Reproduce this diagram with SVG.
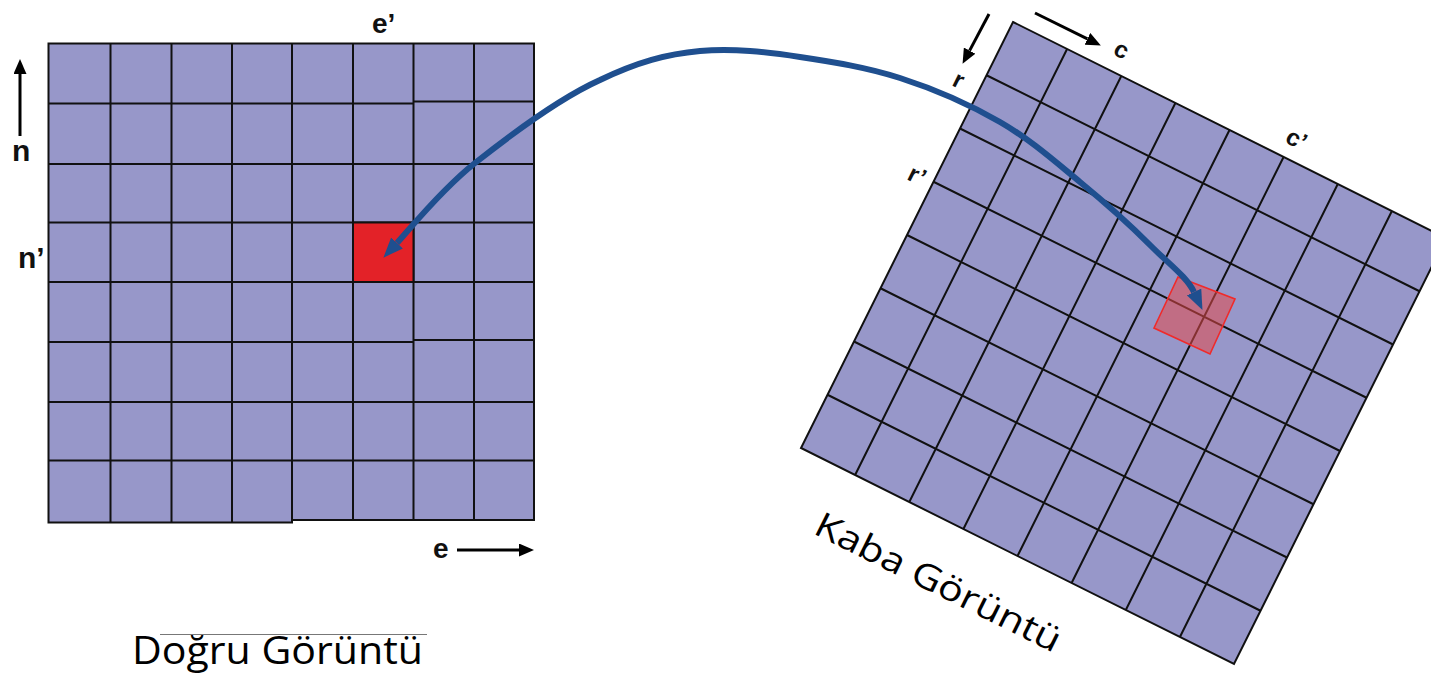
<svg xmlns="http://www.w3.org/2000/svg" width="1431" height="677" viewBox="0 0 1431 677">
<style>
.cell{fill:#9797c9;stroke:#111;stroke-width:2}
.ln{stroke:#111;stroke-width:2;fill:none}
.lbl{font-family:"Liberation Sans",Arial,sans-serif;font-weight:bold;fill:#111}
.cap{font-family:"Open Sans","Noto Sans",sans-serif;fill:#000}
.blk{stroke:#000;stroke-width:3;fill:none}
</style>
<defs>
<marker id="ah" markerUnits="userSpaceOnUse" markerWidth="15" markerHeight="13" viewBox="0 0 15 13" refX="0" refY="6.5" orient="auto">
<path d="M0,0 L15,6.5 L0,13 z" fill="#000"/>
</marker>
<marker id="bh" markerUnits="userSpaceOnUse" markerWidth="20" markerHeight="16" viewBox="0 0 20 16" refX="0" refY="8" orient="auto-start-reverse">
<path d="M0,0 L20,8 L0,16 z" fill="#1f4f8f"/>
</marker>
</defs>

<g id="grid-dogru">
<path class="cell" d="M48.5,43.5 H534 V520 H292 V522.5 H48.5 Z"/>
<path class="ln" d="M110.5,43.5V522.5 M171.5,43.5V522.5 M232,43.5V522.5 M292,43.5V522.5 M353,43.5V520 M413.5,43.5V520 M474,43.5V520
M48.5,103.5H413.5 M413.5,101.5H534 M48.5,164H534 M48.5,222.5H534 M48.5,282H534 M48.5,342H413.5 M413.5,340H534 M48.5,402H534 M48.5,460.5H534"/>
<rect id="hedef-hucre" x="353" y="222.5" width="60.5" height="59.5" fill="#e32228" stroke="#111" stroke-width="2"/>
</g>

<g id="grid-kaba">
<polygon class="cell" points="1013,22 1446,238 1234,664 801,448"/>
<path class="ln" d="M1067.1,49L855.1,475 M1121.3,76L909.3,502 M1175.4,103L963.4,529 M1229.5,130L1017.5,556 M1283.6,157L1071.6,583 M1337.8,184L1125.8,610 M1391.9,211L1179.9,637
M986.5,75.25L1419.5,291.25 M960,128.5L1393,344.5 M933.5,181.75L1366.5,397.75 M907,235L1340,451 M880.5,288.25L1313.5,504.25 M854,341.5L1287,557.5 M827.5,394.75L1260.5,610.75"/>
<polygon id="kaynak-hucre" points="1178,277 1235,299 1210,354 1154,328" fill="#e34a4a" fill-opacity="0.55" stroke="#f02a2a" stroke-width="1.6"/>
</g>

<g id="labels">
<text class="lbl" x="372" y="33" font-size="28">e’</text>
<text class="lbl" x="12" y="161" font-size="30">n</text>
<text class="lbl" x="18" y="268" font-size="30">n’</text>
<text class="lbl" x="433" y="558" font-size="28">e</text>
<text class="lbl" font-size="24" transform="translate(1112,54) rotate(26.5)">c</text>
<text class="lbl" font-size="24" transform="translate(951,85) rotate(26.5)">r</text>
<text class="lbl" font-size="24" transform="translate(1284,142) rotate(26.5)">c’</text>
<text class="lbl" font-size="24" transform="translate(906,179) rotate(26.5)">r’</text>
<line x1="160" y1="634.5" x2="427" y2="634.5" stroke="#777" stroke-width="1"/>
<text class="cap" x="132" y="664" font-size="39" textLength="291" lengthAdjust="spacingAndGlyphs">Doğru Görüntü</text>
<text class="cap" font-size="35" textLength="270" lengthAdjust="spacingAndGlyphs" transform="translate(812,533) rotate(26.4)">Kaba Görüntü</text>
</g>

<g id="connectors">
<line class="blk" x1="20" y1="136" x2="20" y2="74" marker-end="url(#ah)"/>
<line class="blk" x1="457" y1="550" x2="519" y2="550" marker-end="url(#ah)"/>
<line class="blk" x1="989" y1="14" x2="969.6" y2="50.6" marker-end="url(#ah)"/>
<line class="blk" x1="1035" y1="13" x2="1087.4" y2="38.8" marker-end="url(#ah)"/>
<path d="M397,243 C410,229 440.3,190.5 475,163 C509.7,135.5 560,98 600,80 C637.5,62 666.7,54 700,51 C733.3,48 766.7,52 800,57 C833.3,62 866.7,67.3 900,78 C933.3,88.7 970,104.7 1000,122 C1030,139.3 1055,161.5 1080,182 C1105,202.5 1131.3,226.2 1150,245 C1168.7,263.8 1187,277 1194,292" fill="none" stroke="#1f4f8f" stroke-width="6" marker-start="url(#bh)" marker-end="url(#bh)"/>
</g>
</svg>
